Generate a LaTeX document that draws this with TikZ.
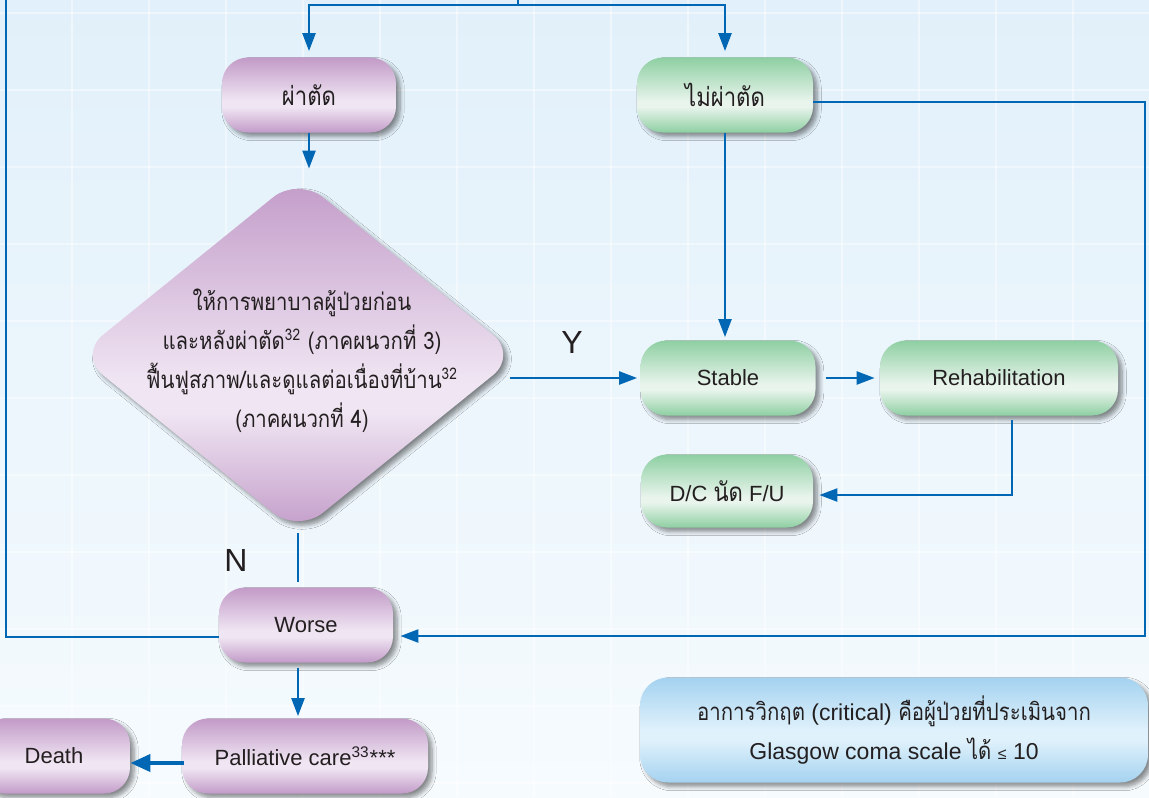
\documentclass[tikz,border=0pt]{standalone}
\usepackage{fontspec}
\setmainfont{Liberation Sans}
\newfontfamily\thaifont[Script=Thai, FakeStretch=0.85]{Loma}
\usetikzlibrary{shapes.geometric,arrows.meta,shadows.blur,calc}

\definecolor{flowblue}{RGB}{0,103,180}
\definecolor{inkdark}{HTML}{231F20}
\definecolor{purpdark}{HTML}{C29BC8}
\definecolor{purplight}{HTML}{F0E6F3}
\definecolor{greendark}{HTML}{8ECFA2}
\definecolor{greenlight}{HTML}{E8F4EC}
\definecolor{notedark}{HTML}{A4D2F0}
\definecolor{notelight}{HTML}{DFF1FB}
\definecolor{bgtop}{HTML}{E1F0FA}
\definecolor{bgbot}{HTML}{F6FBFE}

% vertical bands: darker top and bottom, light band a little below the middle
\pgfdeclareverticalshading{purpleband}{100bp}{color(0bp)=(purpdark); color(25bp)=(purpdark); color(42bp)=(purplight); color(46bp)=(purplight); color(75bp)=(purpdark); color(100bp)=(purpdark)}
\pgfdeclareverticalshading{greenband}{100bp}{color(0bp)=(greendark); color(25bp)=(greendark); color(42bp)=(greenlight); color(46bp)=(greenlight); color(75bp)=(greendark); color(100bp)=(greendark)}
\pgfdeclareverticalshading{noteband}{100bp}{color(0bp)=(notedark); color(25bp)=(notedark); color(45bp)=(notelight); color(50bp)=(notelight); color(75bp)=(notedark); color(100bp)=(notedark)}

\newcommand\thbox{\thaifont\fontsize{13}{15}\selectfont}
\newcommand\thnote{\thaifont\fontsize{12}{15}\selectfont}
% text set on top of a shape without making the shape grow
\newcommand\floattext[1]{\makebox[0pt]{\smash{\raisebox{-6pt}{#1}}}}

\tikzset{
  conn/.style={draw=flowblue, line width=1.2pt},
  arr/.style={conn, -{Triangle[length=9pt,width=6.5pt]}},
  thickarr/.style={draw=flowblue, line width=2pt, -{Triangle[length=10pt,width=8.5pt]}},
  softshadow/.style={blur shadow={shadow xshift=2pt, shadow yshift=-2pt, shadow blur steps=6, shadow opacity=45}},
  box/.style={rounded corners=13pt, minimum height=37.5pt, inner sep=2pt,
    softshadow, text=inkdark, font=\fontsize{11}{13}\selectfont},
  purplebox/.style={box, shade, shading=purpleband},
  greenbox/.style={box, shade, shading=greenband},
  thaitext/.style={font=\thbox},
  lbl/.style={text=inkdark, font=\fontsize{16}{18}\selectfont, inner sep=0pt},
}

\begin{document}
\begin{tikzpicture}[x=0.5pt, y=-0.5pt]
\useasboundingbox (0,0) rectangle (1149,797);

% background with a faint grid
\fill[top color=bgtop, bottom color=bgbot] (0,0) rectangle (1149,797);
\foreach \gx in {72,149,226,303,380,457,534,611,688,765,842,919,996,1073}
  \draw[white, opacity=0.45, line width=0.8pt] (\gx,0) -- (\gx,797);
\foreach \gy in {13,90,167,244,321,398,475,552,629,706,783}
  \draw[white, opacity=0.45, line width=0.8pt] (0,\gy) -- (1149,\gy);

% nodes
\node[purplebox, minimum width=87pt, thaitext] (cut) at (309,95) {ผ่าตัด};
\node[greenbox, minimum width=88pt, thaitext] (noncut) at (725,95) {ไม่ผ่าตัด};
\node[diamond, rounded corners=16pt, shade, shading=purpleband, softshadow,
      minimum width=220pt, minimum height=178pt, inner sep=0pt, text=inkdark,
      font=\thaifont\fontsize{12}{19.5}\selectfont] (dia) at (298,355)
  {\floattext{\hspace*{4pt}\begin{tabular}{@{}c@{}}
   ให้การพยาบาลผู้ป่วยก่อน\\
   และหลังผ่าตัด\textsuperscript{32} (ภาคผนวกที่ 3)\\
   ฟื้นฟูสภาพ/และดูแลต่อเนื่องที่บ้าน\textsuperscript{32}\\
   (ภาคผนวกที่ 4)\end{tabular}}};
\node[greenbox, minimum width=87.5pt] (stable) at (728,378) {Stable};
\node[greenbox, minimum width=119pt] (rehab) at (999,378) {Rehabilitation};
\node[greenbox, minimum width=86pt, minimum height=36.5pt] (dc) at (727,491) {D/C {\thbox นัด} F/U};
\node[purplebox, minimum width=87pt] (worse) at (306,625) {Worse};
\node[purplebox, minimum width=123pt] (pall) at (305,756) {Palliative care\textsuperscript{33}***};
\node[purplebox, minimum width=76pt] (death) at (54,756) {Death};
\node[box, shade, shading=noteband, minimum width=254pt, minimum height=52.5pt,
      rounded corners=14pt, align=center, font=\fontsize{11.5}{19.5}\selectfont] (note) at (894,730)
  {{\thnote อาการวิกฤต} (critical) {\thnote คือผู้ป่วยที่ประเมินจาก}\\
   Glasgow coma scale {\thnote ได้} {\fontsize{8}{8}\selectfont ≤} 10};

\node[lbl] (ylab) at (572,342) {Y};
\node[lbl] (nlab) at (236,560) {N};

% helper points on the outer loop lines
\coordinate (topy) at (0,5);
\coordinate (feed) at (518,0);
\coordinate (rightx) at (1145,0);
\coordinate (leftx) at (6,0);
\coordinate (ne) at ($(noncut.east)+(0,-3.5pt)$);
\coordinate (we) at ($(worse.east)+(0,-5.5pt)$);
\coordinate (ww) at ($(worse.west)+(0,-6pt)$);

% connectors
\draw[conn] (feed) -- (feed |- topy);
\draw[conn, {Triangle[length=9pt,width=6.5pt]}-{Triangle[length=9pt,width=6.5pt]}, shorten <=3pt, shorten >=3pt]
  (cut.north) -- (cut.north |- topy) -- (noncut.north |- topy) -- (noncut.north);
\draw[arr, shorten >=4pt] (cut.south) -- (cut.south |- dia.north);
\draw[arr, shorten >=1.5pt] (noncut.south) -- (noncut.south |- stable.north);
\draw[arr, shorten >=3.5pt] (ne) -- (ne -| rightx) -- (rightx |- we) -- (we);
\draw[arr, shorten >=1.5pt] ($(dia.east |- stable.west)+(-4pt,0)$) -- (stable.west);
\draw[arr, shorten <=5pt, shorten >=2.5pt] (stable.east) -- (rehab.west);
\draw[arr, shorten >=3pt] ($(rehab.south)+(6.5pt,-2pt)$) |- ($(dc.east)+(0,-2pt)$);
\draw[conn, shorten >=2.5pt] (dia.south) -- (dia.south |- worse.north);
\draw[conn] (ww) -| (leftx);
\draw[arr, shorten <=2.5pt, shorten >=1pt] (worse.south -| dia.south) -- (pall.north -| dia.south);
\draw[thickarr] ($(pall.west)+(1pt,-3.5pt)$) -- ($(death.east)+(0,-3.5pt)$);
\end{tikzpicture}
\end{document}
